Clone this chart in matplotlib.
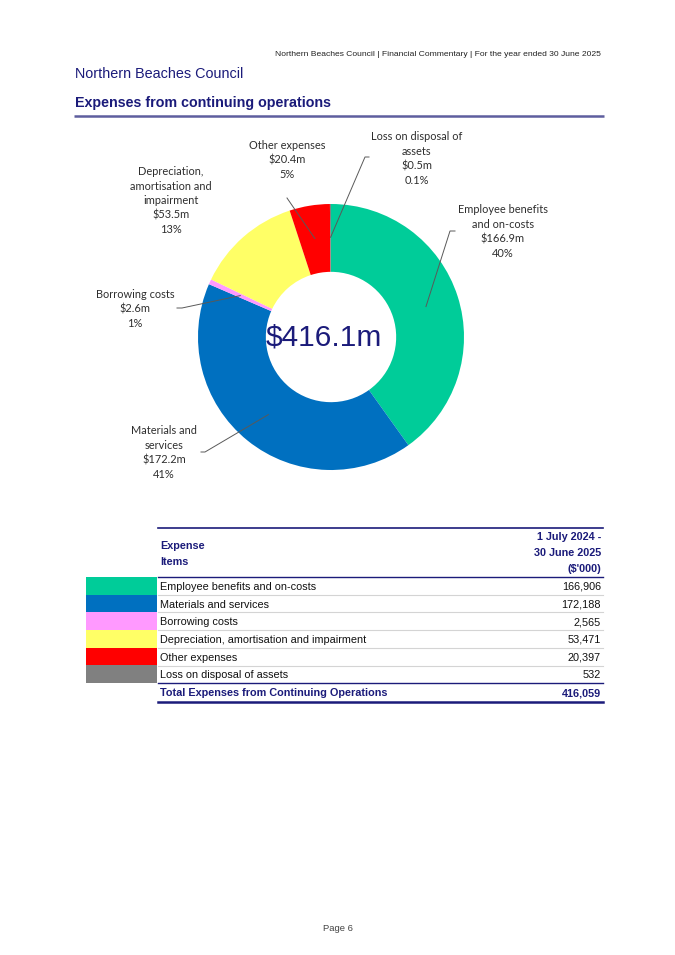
import numpy as np
import matplotlib
matplotlib.use("Agg")
import matplotlib.pyplot as plt

# data
items = ["Employee benefits and on-costs", "Materials and services", "Borrowing costs",
         "Depreciation, amortisation and impairment", "Other expenses", "Loss on disposal of assets"]
chart_names = ["Employee benefits\nand on-costs", "Materials and\nservices", "Borrowing costs",
               "Depreciation,\namortisation and\nimpairment", "Other expenses", "Loss on disposal of\nassets"]
values = [166906, 172188, 2565, 53471, 20397, 532]   # $'000
colors = ["#00CC99", "#0070C0", "#FF99FF", "#FFFF66", "#FF0000", "#808080"]
total = sum(values)

NAVY = "#1B1B7A"
H = 955.0

def Y(y):
    return H - y

fig = plt.figure(figsize=(6.75, 9.55), dpi=100)
ax = fig.add_axes([0, 0, 1, 1])

# header
ax.text(601, Y(55), "Northern Beaches Council | Financial Commentary | For the year ended 30 June 2025",
        ha="right", va="center", fontsize=6.1, family="Liberation Sans", color="#222222")
ax.text(75, Y(74), "Northern Beaches Council", ha="left", va="center",
        fontsize=10.4, family="Liberation Sans", color=NAVY)
ax.text(75, Y(103), "Expenses from continuing operations", ha="left", va="center",
        fontsize=10.3, family="Liberation Sans", weight="bold", color=NAVY)
ax.plot([74, 604], [Y(116), Y(116)], color="#5E5E9E", lw=1.8, solid_capstyle="butt")

# donut
cx, cy, R = 331, Y(337), 133
wedges, _ = ax.pie(values, colors=colors, startangle=90, counterclock=False,
                   center=(cx, cy), radius=R,
                   wedgeprops=dict(width=R * 0.51, linewidth=0))
ax.text(cx - 7, cy - 1, "$%.1fm" % (total / 1000), ha="center", va="center",
        fontsize=21.5, family="Liberation Sans", color=NAVY)

# label layout: (text center x, text top y, leader points from elbow to end)
label_pos = [(503, 204, [(450, 231), (455, 231)]),
             (164, 425, [(205, 452), (201, 452)]),
             (135, 289, [(182, 308), (177, 308)]),
             (171, 166, []),
             (287, 140, [(287, 198)]),
             (417, 131, [(365, 157), (369, 157)])]

for w, v, name, (lx, ly, pts) in zip(wedges, values, chart_names, label_pos):
    pct = v / total * 100
    ptxt = "%.0f%%" % pct if pct >= 0.5 else "%.1f%%" % pct
    ax.text(lx, Y(ly), "%s\n$%.1fm\n%s" % (name, v / 1000, ptxt), ha="center", va="top",
            fontsize=7.9, family="Lato", color="#2E2E2E", linespacing=1.4)
    if pts:
        ang = np.deg2rad((w.theta1 + w.theta2) / 2)
        xs = [cx + 0.75 * R * np.cos(ang)] + [p[0] for p in pts]
        ys = [cy + 0.75 * R * np.sin(ang)] + [Y(p[1]) for p in pts]
        ax.plot(xs, ys, color="#595959", lw=0.7)

# table
fs = 7.8
x0, x1 = 158, 603
ax.plot([x0, x1], [Y(528), Y(528)], color=NAVY, lw=1.2)
ax.text(160, Y(554), "Expense\nItems", ha="left", va="center", fontsize=fs,
        family="Liberation Sans", weight="bold", color=NAVY, linespacing=1.75)
ax.text(601, Y(553), "1 July 2024 -\n30 June 2025\n($'000)", ha="right", va="center", fontsize=fs,
        family="Liberation Sans", weight="bold", color=NAVY, linespacing=1.75)
ax.plot([x0, x1], [Y(577), Y(577)], color=NAVY, lw=1.0)

row_top = 577
row_h = 17.7
for i, (it, v, c) in enumerate(zip(items, values, colors)):
    t = row_top + i * row_h
    ax.fill_between([86, 157], Y(t), Y(t + row_h), color=c, linewidth=0)
    yc = Y(t + row_h / 2 + 1)
    ax.text(160, yc, it, ha="left", va="center", fontsize=fs, family="Liberation Sans", color="#111111")
    ax.text(601, yc, "{:,}".format(v), ha="right", va="center", fontsize=fs,
            family="Liberation Sans", color="#111111")
    if i < len(items) - 1:
        ax.plot([x0, x1], [Y(t + row_h), Y(t + row_h)], color="#D4D4D4", lw=0.8)

tb = row_top + len(items) * row_h
ax.plot([x0, x1], [Y(tb), Y(tb)], color=NAVY, lw=1.0)
ax.text(160, Y(tb + 10), "Total Expenses from Continuing Operations", ha="left", va="center",
        fontsize=fs, family="Liberation Sans", weight="bold", color=NAVY)
ax.text(601, Y(tb + 10), "{:,}".format(total), ha="right", va="center",
        fontsize=fs, family="Liberation Sans", weight="bold", color=NAVY)
ax.plot([x0, x1], [Y(tb + 19), Y(tb + 19)], color=NAVY, lw=1.8)

ax.text(338, Y(928), "Page 6", ha="center", va="center", fontsize=6.8,
        family="Liberation Sans", color="#444444")

ax.set_xlim(0, 675)
ax.set_ylim(0, H)
ax.set_aspect("auto")
ax.axis("off")

fig.savefig("out.png", dpi=100)
